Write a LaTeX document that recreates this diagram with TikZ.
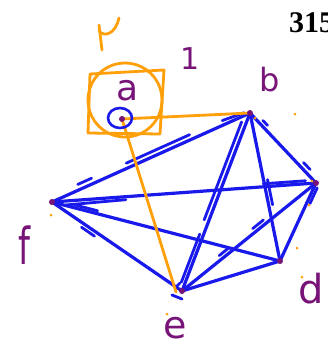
\documentclass[tikz,border=0pt]{standalone}
\usepackage{fontspec}
\setmainfont{Liberation Serif}
\newfontfamily\hand{DejaVu Sans}
\usetikzlibrary{calc}
\definecolor{pen}{RGB}{25,25,235}
\definecolor{org}{RGB}{255,160,10}
\definecolor{pur}{RGB}{120,20,120}
\begin{document}
\begin{tikzpicture}[x=1pt,y=-1pt,
  edge/.style={draw=pen,line width=3.2pt,line cap=round},
  stroke/.style={draw=pen,line width=2.8pt,line cap=round},
  oline/.style={draw=org,line width=2.8pt,line cap=round,line join=round},
  vtx/.style={circle,fill=pur,inner sep=0pt,minimum size=6pt},
  lbl/.style={text=pur,inner sep=0pt},
  odot/.style={circle,fill=org,inner sep=0pt,minimum size=3pt}]
\useasboundingbox (0,0) rectangle (328,349);
\clip (0,0) rectangle (328,349);
\fill[white] (0,0) rectangle (328,349);
% vertices
\coordinate (a) at (122,119);
\coordinate (b) at (250,113);
\coordinate (c) at (316,183);
\coordinate (d) at (280,261);
\coordinate (e) at (182,291);
\coordinate (f) at (52,202);
% blue K5
\draw[edge] (b) -- (f);
\draw[edge] (b) -- (e);
\draw[edge] (b) -- (d);
\draw[edge] (b) -- (c);
\draw[edge] (c) -- (f);
\draw[edge] (c) -- (e);
\draw[edge] (c) -- (d);
\draw[edge] (d) -- (f);
\draw[edge] (d) -- (e);
\draw[edge] (e) -- (f);
% retracing strokes
\draw[stroke] ($(b)!0.02!(f)+(-2,-2)$) -- ($(b)!0.13!(f)+(-2,-4)$);
\draw[stroke] ($(b)!0.3!(f)+(-1,-5)$) -- ($(b)!0.62!(f)+(-1,-5)$);
\draw[stroke] ($(b)!0.8!(f)+(0,-6)$) -- ($(b)!0.87!(f)+(0,-6)$);
\draw[stroke] ($(b)!0.05!(e)+(-5,0)$) -- ($(b)!0.6!(e)+(-5,0)$);
\draw[stroke] ($(b)!0.68!(e)+(-4,0)$) -- ($(b)!0.95!(e)+(-4,0)$);
\draw[stroke] ($(b)!0.45!(d)+(4,0)$) -- ($(b)!0.62!(d)+(4,0)$);
\draw[stroke] ($(b)!0.15!(c)+(3,-3)$) -- ($(b)!0.22!(c)+(3,-3)$);
\draw[stroke] ($(b)!0.75!(c)+(4,-3)$) -- ($(b)!0.85!(c)+(4,-3)$);
\draw[stroke] ($(f)!0.05!(c)+(0,4)$) -- ($(f)!0.28!(c)+(0,3)$);
\draw[stroke] ($(f)!0.8!(c)+(0,-3)$) -- ($(f)!0.96!(c)+(0,-3)$);
\draw[stroke] ($(f)!0.1!(d)+(0,-3)$) -- ($(f)!0.2!(d)+(0,-3)$);
\draw[stroke] ($(f)!0.25!(e)+(-3,3)$) -- ($(f)!0.35!(e)+(-3,3)$);
\draw[stroke] ($(c)!0.37!(e)+(-3,-3)$) -- ($(c)!0.45!(e)+(-3,-3)$);
\draw[stroke] ($(c)!0.63!(e)+(-3,-3)$) -- ($(c)!0.7!(e)+(-3,-3)$);
\draw[stroke] ($(c)!0.05!(d)+(3,1)$) -- ($(c)!0.25!(d)+(3,1)$);
\draw[stroke] ($(e)+(-6,-4)$) -- ($(e)+(-2,-8)$);
\draw[stroke] ($(e)+(-10,4)$) -- ($(e)+(0,8)$);
% orange
\draw[oline] (a) -- (b);
\draw[oline] (a) -- (176,292);
\draw[oline] (90,74) -- (164,70) -- (160,134) -- (88,133) -- cycle;
\draw[oline] (125,100) circle[radius=37];
\draw[oline] (102,50) -- (99,25) (99,31) .. controls (104,37) and (115,35) .. (119,18);
\draw[pen,line width=2.6pt] (120,118) ellipse[x radius=12, y radius=10];
% vertex dots
\foreach \v in {a,b,c,d,e,f} \node[vtx] at (\v) {};
% small orange dots
\foreach \p in {(255,118),(295,114),(312,181),(51,215),(167,314),(297,248),(302,277),(309,205)}
  \node[odot] at \p {};
% labels
\node[lbl,font=\hand\fontsize{36}{36}\selectfont] (la) at (128,91) {a};
\node[lbl,font=\hand\fontsize{32}{32}\selectfont] (lb) at (270,80) {b};
\node[lbl,font=\hand\fontsize{34}{34}\selectfont] (lf) at (24,245) {\scalebox{1}[1.5]{f}};
\node[lbl,font=\hand\fontsize{38}{38}\selectfont] (le) at (175,328) {e};
\node[lbl,font=\hand\fontsize{40}{40}\selectfont] (ld) at (311,289) {d};
\node[lbl,font=\hand\fontsize{30}{30}\selectfont] (l1) at (190,59) {1};
\node[anchor=base west,inner sep=0pt,font=\bfseries\fontsize{30}{30}\selectfont] (num) at (289,32) {315};
\end{tikzpicture}
\end{document}
